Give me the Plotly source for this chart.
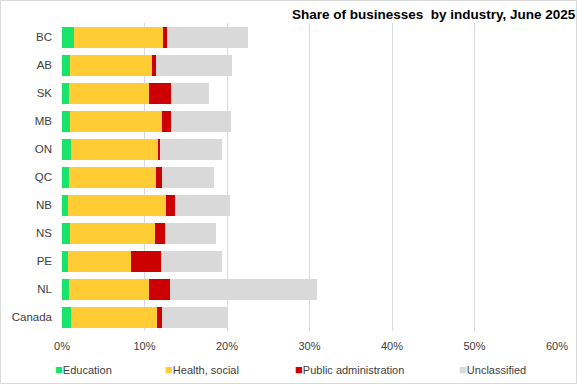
import plotly.graph_objects as go

regions = ["BC", "AB", "SK", "MB", "ON", "QC", "NB", "NS", "PE", "NL", "Canada"]
education = [1.4, 1.0, 0.9, 1.0, 1.1, 0.9, 0.75, 1.0, 0.75, 0.9, 1.1]
health_social = [10.8, 9.95, 9.7, 11.15, 10.55, 10.55, 11.9, 10.3, 7.65, 9.6, 10.4]
public_admin = [0.5, 0.5, 2.65, 1.1, 0.25, 0.73, 1.0, 1.2, 3.65, 2.55, 0.6]
unclassified = [9.8, 9.2, 4.6, 7.25, 7.5, 6.2, 6.7, 6.2, 7.4, 17.8, 7.85]

series = [
    ("Education", education, "#19E36A"),
    ("Health, social", health_social, "#FFCC33"),
    ("Public administration", public_admin, "#CC0000"),
    ("Unclassified", unclassified, "#D9D9D9"),
]
legend_px = [53, 163, 293, 457]

W, H = 577, 384
ml, mr, mt, mb = 62, 20, 23, 53
pw, ph = W - ml - mr, H - mt - mb

font_family = "Liberation Sans, Arial"
text_col = "#404040"

fig = go.Figure()
annotations = []
for i, (name, vals, col) in enumerate(series):
    fig.add_trace(go.Bar(
        y=regions, x=vals, name=name, orientation="h",
        marker=dict(color=col, line=dict(width=0)),
        showlegend=False,
    ))
    annotations.append(dict(
        xref="paper", yref="paper",
        x=(legend_px[i] - ml) / pw, y=-(369 - mt - ph) / ph,
        xanchor="left", yanchor="middle", showarrow=False,
        text=f"<span style='color:{col};font-size:13px'>■</span>{name}",
        font=dict(family=font_family, size=11, color=text_col),
    ))

fig.update_layout(
    width=W, height=H,
    margin=dict(l=ml, r=mr, t=mt, b=mb, autoexpand=False),
    barmode="stack", bargap=0.25,
    plot_bgcolor="white", paper_bgcolor="white",
    title=dict(
        text="<b>Share of businesses  by industry, June 2025</b>",
        x=0.997, xanchor="right", xref="container",
        y=1 - 14 / H, yanchor="middle", yref="container",
        font=dict(family="Liberation Sans, Arial", size=13.5, color="#000000"),
    ),
    xaxis=dict(
        range=[0, 60], dtick=10, ticksuffix="%", showgrid=True,
        gridcolor="#D9D9D9", gridwidth=1, zeroline=False, showline=False,
        ticks="", ticklabelstandoff=7, automargin=False,
        tickfont=dict(family=font_family, size=11, color=text_col),
    ),
    yaxis=dict(
        categoryorder="array", categoryarray=regions, autorange="reversed",
        showgrid=False, zeroline=False, showline=False, ticks="",
        ticklabelstandoff=9, automargin=False,
        tickfont=dict(family=font_family, size=11.5, color=text_col),
    ),
    showlegend=False,
    annotations=annotations,
    shapes=[dict(
        type="rect", xref="paper", yref="paper",
        x0=-(ml - 0.5) / pw, x1=1 + (mr - 0.5) / pw,
        y0=-(mb - 0.5) / ph, y1=1 + (mt - 0.5) / ph,
        line=dict(color="#D9D9D9", width=1), layer="below",
    )],
)

fig.write_html("out.html", config={"displayModeBar": False},
               post_script="document.body.style.margin='0';")
